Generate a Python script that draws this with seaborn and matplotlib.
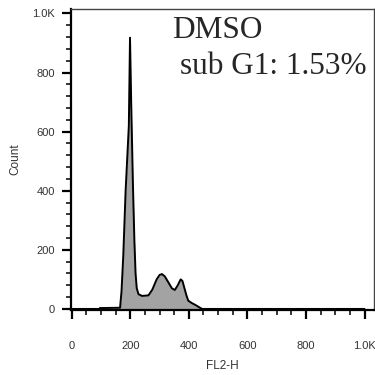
import numpy as np
import pandas as pd
import matplotlib
matplotlib.use('Agg')
import matplotlib.pyplot as plt
import seaborn as sns
from matplotlib.ticker import MultipleLocator, FuncFormatter

# FL2-H channel vs event count
fl2_h = [0, 95, 96, 165, 170, 176, 184, 195, 199, 203, 209, 214, 218,
         222, 228, 240, 262, 275, 290, 300, 308, 318, 330, 342, 352, 362,
         372, 378, 385, 392, 398, 410, 425, 438, 446, 1000]
count = [0, 0, 3, 4, 60, 180, 400, 620, 918, 700, 420, 230, 120,
         70, 50, 44, 46, 65, 100, 115, 118, 110, 90, 70, 64, 80,
         100, 95, 70, 45, 28, 20, 12, 4, 0, 0]

sample_name = 'DMSO'
sub_g1_label = 'sub G1: 1.53%'

df = pd.DataFrame({'FL2-H': fl2_h, 'Count': count})

sns.set_style('ticks')
plt.rcParams['font.family'] = ['Liberation Sans', 'DejaVu Sans']

fig = plt.figure(figsize=(3.75, 3.75), dpi=100)
ax = fig.add_axes([0.189, 0.173, 0.808, 0.803])

ax.fill_between(df['FL2-H'], df['Count'], 0, color='#a3a3a3', linewidth=0)
sns.lineplot(data=df, x='FL2-H', y='Count', ax=ax, color='black',
             linewidth=1.4, estimator=None, sort=False)

ax.set_xlim(-3, 1032)
ax.set_ylim(-4, 1015)

fmt = FuncFormatter(lambda v, p: '1.0K' if v >= 1000 else f'{int(v)}')
ax.xaxis.set_major_locator(MultipleLocator(200))
ax.xaxis.set_minor_locator(MultipleLocator(50))
ax.yaxis.set_major_locator(MultipleLocator(200))
ax.yaxis.set_minor_locator(MultipleLocator(40))
ax.xaxis.set_major_formatter(fmt)
ax.yaxis.set_major_formatter(fmt)

ax.tick_params(axis='both', which='major', length=6.5, width=1.6,
               labelsize=8, labelcolor='#333333', color='black')
ax.tick_params(axis='both', which='minor', length=3.5, width=1.1,
               color='black')
ax.tick_params(axis='x', which='major', pad=16)
ax.tick_params(axis='y', which='major', pad=5)

for side in ['left', 'bottom']:
    ax.spines[side].set_linewidth(1.6)
    ax.spines[side].set_color('black')
for side in ['top', 'right']:
    ax.spines[side].set_visible(True)
    ax.spines[side].set_linewidth(1.0)
    ax.spines[side].set_color('#444444')

ax.set_xlabel('FL2-H', fontsize=8.5, color='#333333', labelpad=6)
ax.set_ylabel('Count', fontsize=8.5, color='#333333', labelpad=8)

ax.text(0.333, 0.927, sample_name, transform=ax.transAxes, fontsize=22.5,
        family='Liberation Serif', va='center', ha='left')
ax.text(0.36, 0.81, sub_g1_label, transform=ax.transAxes, fontsize=22.5,
        family='Liberation Serif', va='center', ha='left')

fig.savefig('out.png', dpi=100)
